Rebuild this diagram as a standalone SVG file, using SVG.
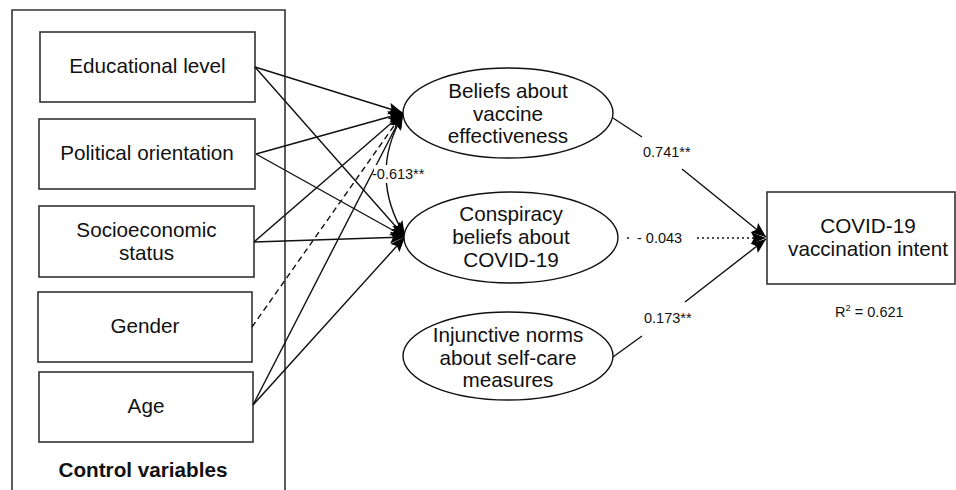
<svg xmlns="http://www.w3.org/2000/svg" width="956" height="490" viewBox="0 0 956 490">
<defs>
<marker id="ah" markerUnits="userSpaceOnUse" markerWidth="17" markerHeight="13" refX="15" refY="6.5" orient="auto">
<path d="M0,0.5 L15,6.5 L0,12.5 L3,6.5 z" fill="#000"/>
</marker>
<marker id="ahs" markerUnits="userSpaceOnUse" markerWidth="17" markerHeight="13" refX="15" refY="6.5" orient="auto-start-reverse">
<path d="M0,0.5 L15,6.5 L0,12.5 L3,6.5 z" fill="#000"/>
</marker>
</defs>
<style>
.box{fill:#fff;stroke:#333;stroke-width:1.6}
.ell{fill:#fff;stroke:#111;stroke-width:1.4}
.t{font-family:"Liberation Sans",Arial,sans-serif;font-size:20.7px;fill:#111;text-anchor:middle}
.b{font-weight:bold}
.s{font-family:"Liberation Sans",Arial,sans-serif;font-size:14.5px;fill:#111}
.ln{fill:none;stroke:#111;stroke-width:1.4}
.dash{stroke-dasharray:6,4}
.dot{stroke-dasharray:2,3}
</style>
<rect width="956" height="490" fill="#fff"/>
<g id="control-variables">
<path d="M12,492 L12,10 L285,10 L285,492" fill="none" stroke="#333" stroke-width="1.6"/>
<text class="t b" x="143" y="477">Control variables</text>
</g>
<g id="educational-level">
<rect class="box" x="40" y="32" width="215" height="70"/>
<text class="t" x="147.5" y="73">Educational level</text>
</g>
<g id="political-orientation">
<rect class="box" x="39" y="119" width="216" height="70"/>
<text class="t" x="147" y="160">Political orientation</text>
</g>
<g id="socioeconomic-status">
<rect class="box" x="39" y="206" width="215" height="71"/>
<text class="t" x="146.5" y="237">Socioeconomic</text>
<text class="t" x="146.5" y="260">status</text>
</g>
<g id="gender">
<rect class="box" x="38" y="292" width="214" height="70"/>
<text class="t" x="145" y="333">Gender</text>
</g>
<g id="age">
<rect class="box" x="39" y="372" width="214" height="70"/>
<text class="t" x="146" y="413">Age</text>
</g>
<g id="connectors">
<line class="ln" x1="255" y1="67" x2="403" y2="113" marker-end="url(#ah)"/>
<line class="ln" x1="255" y1="67" x2="405" y2="237" marker-end="url(#ah)"/>
<line class="ln" x1="256" y1="154" x2="403" y2="113" marker-end="url(#ah)"/>
<line class="ln" x1="256" y1="154" x2="405" y2="237" marker-end="url(#ah)"/>
<line class="ln" x1="254" y1="242" x2="403" y2="113" marker-end="url(#ah)"/>
<line class="ln" x1="254" y1="242" x2="405" y2="237" marker-end="url(#ah)"/>
<line class="ln dash" x1="252" y1="327" x2="403" y2="113" marker-end="url(#ah)"/>
<line class="ln" x1="253" y1="405" x2="403" y2="113" marker-end="url(#ah)"/>
<line class="ln" x1="253" y1="405" x2="405" y2="237" marker-end="url(#ah)"/>
<path class="ln" d="M403,115 Q368,175 405,236" marker-start="url(#ahs)" marker-end="url(#ah)"/>
<path class="ln" d="M613,118 L642,137 M682,169 L766,237" marker-end="url(#ah)"/>
<path class="ln dot" d="M627,238 L630,238 M697,238 L766,238" marker-end="url(#ah)"/>
<path class="ln" d="M613,357 L642,336 M685,302 L766,239" marker-end="url(#ah)"/>
</g>
<g id="label-0613">
<rect x="374" y="165" width="56" height="18" fill="#fff"/>
<text class="s" x="372" y="179">-0.613**</text>
</g>
<g id="beliefs-vaccine-effectiveness">
<ellipse class="ell" cx="508" cy="113" rx="105" ry="45"/>
<text class="t" x="508" y="98">Beliefs about</text>
<text class="t" x="508" y="120.5">vaccine</text>
<text class="t" x="508" y="143">effectiveness</text>
</g>
<g id="conspiracy-beliefs">
<ellipse class="ell" cx="511" cy="237.5" rx="107" ry="45.5"/>
<text class="t" x="511" y="221">Conspiracy</text>
<text class="t" x="511" y="244">beliefs about</text>
<text class="t" x="511" y="267">COVID-19</text>
</g>
<g id="injunctive-norms">
<ellipse class="ell" cx="508" cy="356" rx="105" ry="44"/>
<text class="t" x="508" y="342">Injunctive norms</text>
<text class="t" x="508" y="364.5">about self-care</text>
<text class="t" x="508" y="387">measures</text>
</g>
<g id="covid-vaccination-intent">
<rect class="box" x="767" y="192" width="188" height="92"/>
<text class="t" x="868" y="233">COVID-19</text>
<text class="t" x="868" y="256">vaccination intent</text>
<text class="s" x="835" y="317">R<tspan font-size="9.5" dy="-6">2</tspan><tspan dy="6"> = 0.621</tspan></text>
</g>
<g id="path-labels">
<text class="s" x="643" y="157">0.741**</text>
<text class="s" x="637" y="243">- 0.043</text>
<text class="s" x="644" y="323">0.173**</text>
</g>
</svg>
